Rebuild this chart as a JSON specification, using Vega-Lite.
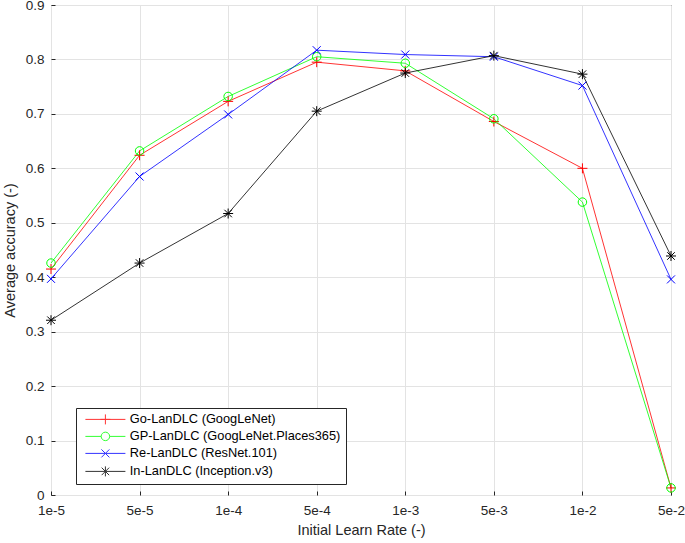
{
  "$schema": "https://vega.github.io/schema/vega-lite/v6.json",
  "width": 620,
  "height": 490,
  "autosize": {"type": "none"},
  "padding": {"left": 51, "top": 5, "right": 14, "bottom": 48},
  "background": "white",
  "config": {
    "font": "Liberation Sans",
    "view": {"stroke": "#262626", "strokeWidth": 1},
    "axis": {
      "labelFont": "Liberation Sans",
      "labelFontSize": 13.5,
      "labelColor": "#262626",
      "titleFont": "Liberation Sans",
      "titleFontSize": 14.5,
      "titleFontWeight": "normal",
      "titleColor": "#262626",
      "gridColor": "#e3e3e3",
      "gridWidth": 1,
      "domain": false,
      "tickColor": "#262626",
      "tickSize": -4
    }
  },
  "data": {
    "values": [
      {"lr": "1e-5", "model": "Go-LanDLC (GoogLeNet)", "marker": "plus", "acc": 0.415},
      {"lr": "5e-5", "model": "Go-LanDLC (GoogLeNet)", "marker": "plus", "acc": 0.624},
      {"lr": "1e-4", "model": "Go-LanDLC (GoogLeNet)", "marker": "plus", "acc": 0.723},
      {"lr": "5e-4", "model": "Go-LanDLC (GoogLeNet)", "marker": "plus", "acc": 0.795},
      {"lr": "1e-3", "model": "Go-LanDLC (GoogLeNet)", "marker": "plus", "acc": 0.779},
      {"lr": "5e-3", "model": "Go-LanDLC (GoogLeNet)", "marker": "plus", "acc": 0.686},
      {"lr": "1e-2", "model": "Go-LanDLC (GoogLeNet)", "marker": "plus", "acc": 0.600},
      {"lr": "5e-2", "model": "Go-LanDLC (GoogLeNet)", "marker": "plus", "acc": 0.013},
      {"lr": "1e-5", "model": "GP-LanDLC (GoogLeNet.Places365)", "marker": "circle", "acc": 0.426},
      {"lr": "5e-5", "model": "GP-LanDLC (GoogLeNet.Places365)", "marker": "circle", "acc": 0.632},
      {"lr": "1e-4", "model": "GP-LanDLC (GoogLeNet.Places365)", "marker": "circle", "acc": 0.732},
      {"lr": "5e-4", "model": "GP-LanDLC (GoogLeNet.Places365)", "marker": "circle", "acc": 0.805},
      {"lr": "1e-3", "model": "GP-LanDLC (GoogLeNet.Places365)", "marker": "circle", "acc": 0.793},
      {"lr": "5e-3", "model": "GP-LanDLC (GoogLeNet.Places365)", "marker": "circle", "acc": 0.691},
      {"lr": "1e-2", "model": "GP-LanDLC (GoogLeNet.Places365)", "marker": "circle", "acc": 0.538},
      {"lr": "5e-2", "model": "GP-LanDLC (GoogLeNet.Places365)", "marker": "circle", "acc": 0.013},
      {"lr": "1e-5", "model": "Re-LanDLC (ResNet.101)", "marker": "x", "acc": 0.397},
      {"lr": "5e-5", "model": "Re-LanDLC (ResNet.101)", "marker": "x", "acc": 0.585},
      {"lr": "1e-4", "model": "Re-LanDLC (ResNet.101)", "marker": "x", "acc": 0.699},
      {"lr": "5e-4", "model": "Re-LanDLC (ResNet.101)", "marker": "x", "acc": 0.817},
      {"lr": "1e-3", "model": "Re-LanDLC (ResNet.101)", "marker": "x", "acc": 0.809},
      {"lr": "5e-3", "model": "Re-LanDLC (ResNet.101)", "marker": "x", "acc": 0.805},
      {"lr": "1e-2", "model": "Re-LanDLC (ResNet.101)", "marker": "x", "acc": 0.752},
      {"lr": "5e-2", "model": "Re-LanDLC (ResNet.101)", "marker": "x", "acc": 0.396},
      {"lr": "1e-5", "model": "In-LanDLC (Inception.v3)", "marker": "asterisk", "acc": 0.321},
      {"lr": "5e-5", "model": "In-LanDLC (Inception.v3)", "marker": "asterisk", "acc": 0.426},
      {"lr": "1e-4", "model": "In-LanDLC (Inception.v3)", "marker": "asterisk", "acc": 0.517},
      {"lr": "5e-4", "model": "In-LanDLC (Inception.v3)", "marker": "asterisk", "acc": 0.705},
      {"lr": "1e-3", "model": "In-LanDLC (Inception.v3)", "marker": "asterisk", "acc": 0.775},
      {"lr": "5e-3", "model": "In-LanDLC (Inception.v3)", "marker": "asterisk", "acc": 0.807},
      {"lr": "1e-2", "model": "In-LanDLC (Inception.v3)", "marker": "asterisk", "acc": 0.773},
      {"lr": "5e-2", "model": "In-LanDLC (Inception.v3)", "marker": "asterisk", "acc": 0.439}
    ]
  },
  "encoding": {
    "x": {
      "field": "lr",
      "type": "ordinal",
      "sort": ["1e-5", "5e-5", "1e-4", "5e-4", "1e-3", "5e-3", "1e-2", "5e-2"],
      "scale": {"type": "point", "padding": 0},
      "axis": {"title": "Initial Learn Rate (-)", "labelAngle": 0, "grid": true, "labelPadding": 12, "titlePadding": 7}
    },
    "y": {
      "field": "acc",
      "type": "quantitative",
      "scale": {"domain": [0, 0.9], "nice": false},
      "axis": {
        "title": "Average accuracy (-)",
        "values": [0, 0.1, 0.2, 0.3, 0.4, 0.5, 0.6, 0.7, 0.8, 0.9],
        "format": ".1~f",
        "grid": true,
        "labelPadding": 11,
        "titlePadding": 8
      }
    },
    "color": {
      "field": "model",
      "type": "nominal",
      "scale": {
        "domain": ["Go-LanDLC (GoogLeNet)", "GP-LanDLC (GoogLeNet.Places365)", "Re-LanDLC (ResNet.101)", "In-LanDLC (Inception.v3)"],
        "range": ["#ff0000", "#00ff00", "#0000ff", "#000000"]
      },
      "legend": {
        "title": null,
        "orient": "none",
        "legendX": 25,
        "legendY": 403,
        "direction": "vertical",
        "fillColor": "white",
        "strokeColor": "#262626",
        "padding": 5,
        "cornerRadius": 0,
        "labelFont": "Liberation Sans",
        "labelFontSize": 12.8,
        "labelColor": "#000000",
        "labelLimit": 400,
        "symbolSize": 100,
        "symbolStrokeWidth": 1,
        "symbolOffset": 18,
        "labelOffset": 18,
        "rowPadding": 3,
        "symbolType": {"expr": "datum.value == 'Go-LanDLC (GoogLeNet)' ? 'M-4,0L4,0M0,-1L0,1M-1,0L1,0' : datum.value == 'GP-LanDLC (GoogLeNet.Places365)' ? 'M-4,0L-0.85,0M0.85,0L4,0M0.85,0A0.85,0.85,0,1,1,-0.85,0A0.85,0.85,0,1,1,0.85,0' : datum.value == 'Re-LanDLC (ResNet.101)' ? 'M-4,0L4,0M-0.8,-0.8L0.8,0.8M-0.8,0.8L0.8,-0.8' : 'M-4,0L4,0M0,-1L0,1M-0.75,-0.75L0.75,0.75M-0.75,0.75L0.75,-0.75'"}
      }
    }
  },
  "layer": [
    {
      "mark": {"type": "line", "strokeWidth": 1, "opacity": 0.8}
    },
    {
      "mark": {"type": "point", "filled": false, "strokeWidth": 1, "size": 100, "opacity": 1},
      "encoding": {
        "shape": {
          "field": "marker",
          "type": "nominal",
          "scale": {
            "domain": ["plus", "circle", "x", "asterisk"],
            "range": [
              "M0,-1L0,1M-1,0L1,0",
              "M0.85,0A0.85,0.85,0,1,1,-0.85,0A0.85,0.85,0,1,1,0.85,0",
              "M-0.8,-0.8L0.8,0.8M-0.8,0.8L0.8,-0.8",
              "M0,-1L0,1M-1,0L1,0M-0.75,-0.75L0.75,0.75M-0.75,0.75L0.75,-0.75"
            ]
          },
          "legend": null
        }
      }
    }
  ]
}
